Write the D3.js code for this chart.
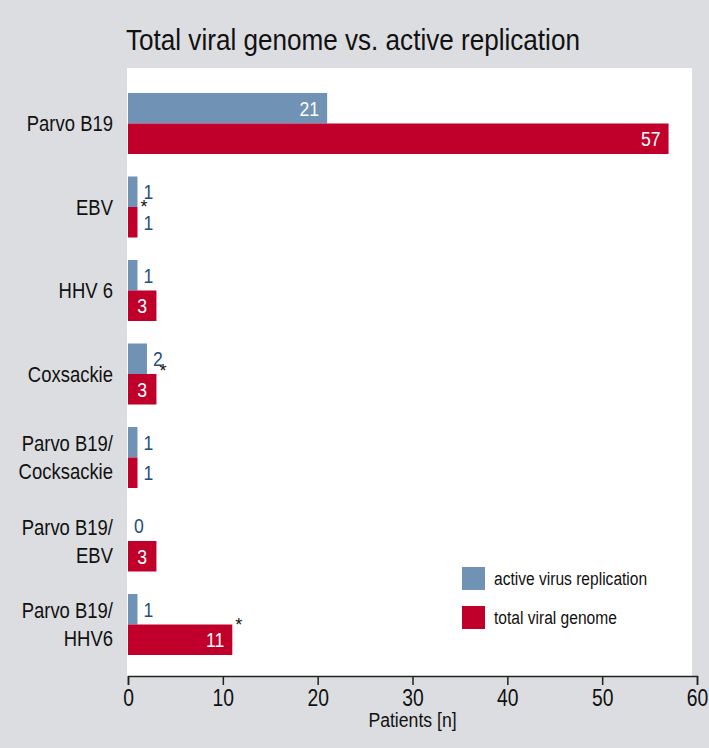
<!DOCTYPE html>
<html>
<head>
<meta charset="utf-8">
<script src="https://cdn.jsdelivr.net/npm/d3@7"></script>
<style>
  html, body { margin: 0; padding: 0; background: #dcdde0; }
  svg text { font-family: "Liberation Sans", Arial, sans-serif; }
</style>
</head>
<body>
<div id="chart"></div>
<script>
const width = 709;
const height = 748;

// data
const categories = ["Parvo B19", "EBV", "HHV 6", "Coxsackie", "Parvo B19/\nCocksackie", "Parvo B19/\nEBV", "Parvo B19/\nHHV6"];
const activeReplication = [21, 1, 1, 2, 1, 0, 1];
const totalGenome = [57, 1, 3, 3, 1, 3, 11];
const significant = [false, true, false, true, false, false, true];
const xTicks = [0, 10, 20, 30, 40, 50, 60];
const seriesNames = ["active virus replication", "total viral genome"];

const blue = "#7092b5";
const red = "#c0002b";
const labelBlue = "#1f4f7a";
const narrow = 0.84; // horizontal squeeze, the original uses a condensed face

const plotLeft = 128;
const plotRight = 697;
const panelTop = 68;
const axisY = 676;

const svg = d3.select("#chart")
  .append("svg")
  .attr("width", width)
  .attr("height", height);

// helper: place a text at (px, py) squeezed horizontally
function put(sel, px, py, k = narrow) {
  return sel.attr("x", 0).attr("y", 0)
    .attr("transform", `translate(${px},${py}) scale(${k},1)`);
}

// title
put(svg.append("text"), 126, 50, 0.87)
  .style("font-size", "30px")
  .style("fill", "#111")
  .text("Total viral genome vs. active replication");

// white plot panel
svg.append("rect")
  .attr("x", 127)
  .attr("y", panelTop)
  .attr("width", 692 - 127)
  .attr("height", axisY - panelTop)
  .attr("fill", "#fff");

const x = d3.scaleLinear().domain([0, 60]).range([plotLeft, plotRight]);

const y = d3.scaleBand()
  .domain(categories)
  .range([93 - 11, 655 + 11])
  .paddingInner(22.5 / 83.5)
  .paddingOuter(11 / 83.5);

const barH = y.bandwidth() / 2;

const rows = categories.map((c, i) => ({
  cat: c,
  active: activeReplication[i],
  total: totalGenome[i],
  sig: significant[i]
}));

const group = svg.selectAll(".group")
  .data(rows)
  .enter()
  .append("g")
  .attr("class", "group")
  .attr("transform", d => `translate(0,${y(d.cat)})`);

function drawBar(g, key, color, offset) {
  g.append("rect")
    .attr("x", x(0))
    .attr("y", offset)
    .attr("width", d => x(d[key]) - x(0))
    .attr("height", barH)
    .attr("fill", color);

  g.append("text")
    .attr("transform", d => {
      const w = x(d[key]) - x(0);
      let px;
      if (w >= 60) px = x(d[key]) - 8;
      else if (w >= 25) px = x(0) + w / 2;
      else px = x(d[key]) + 6;
      return `translate(${px},${offset + barH / 2 + 7.5}) scale(${narrow},1)`;
    })
    .attr("text-anchor", d => {
      const w = x(d[key]) - x(0);
      if (w >= 60) return "end";
      if (w >= 25) return "middle";
      return "start";
    })
    .style("font-size", "21px")
    .style("fill", d => (x(d[key]) - x(0) >= 25 ? "#fff" : labelBlue))
    .text(d => d[key]);
}

drawBar(group, "active", blue, 0);
drawBar(group, "total", red, barH);

// asterisks marking significance
group.filter(d => d.sig)
  .append("text")
  .attr("x", d => x(Math.max(d.active, d.total)) + 3)
  .attr("y", d => barH + (d.active > 1 ? 3 : 6))
  .style("font-size", "18px")
  .style("fill", "#111")
  .text("*");

// category labels
const catLabel = svg.selectAll(".cat")
  .data(categories)
  .enter()
  .append("text")
  .attr("class", "cat")
  .attr("text-anchor", "end")
  .attr("transform", `translate(113,0) scale(${narrow},1)`)
  .style("font-size", "22px")
  .style("fill", "#111");

catLabel.each(function (d) {
  const lines = d.split("\n");
  const lh = 28;
  const cy = y(d) + y.bandwidth() / 2;
  d3.select(this).selectAll("tspan")
    .data(lines)
    .enter()
    .append("tspan")
    .attr("x", 0)
    .attr("y", (l, i) => cy + 8 + (i - (lines.length - 1) / 2) * lh)
    .text(l => l);
});

// x axis
const axis = svg.append("g")
  .attr("transform", `translate(0,${axisY})`)
  .call(d3.axisBottom(x).tickValues(xTicks).tickSize(9).tickSizeOuter(9).tickPadding(5));

axis.select(".domain").attr("stroke", "#222").attr("stroke-width", 1.5);
axis.selectAll(".tick line").attr("stroke", "#222").attr("stroke-width", 1.5);
axis.selectAll(".tick text")
  .attr("transform", `scale(${narrow},1)`)
  .style("font-size", "23px")
  .style("font-family", "\"Liberation Sans\", Arial, sans-serif")
  .style("fill", "#111");

put(svg.append("text"), x(30), 727)
  .attr("text-anchor", "middle")
  .style("font-size", "21px")
  .style("fill", "#111")
  .text("Patients [n]");

// legend
const legend = svg.selectAll(".legend-item")
  .data(seriesNames)
  .enter()
  .append("g")
  .attr("class", "legend-item")
  .attr("transform", (d, i) => `translate(462,${567 + i * 39})`);

legend.append("rect")
  .attr("width", 23)
  .attr("height", 23)
  .attr("fill", (d, i) => (i === 0 ? blue : red));

legend.append("text")
  .attr("transform", `translate(32,18) scale(0.82,1)`)
  .style("font-size", "19px")
  .style("fill", "#111")
  .text(d => d);
</script>
</body>
</html>
